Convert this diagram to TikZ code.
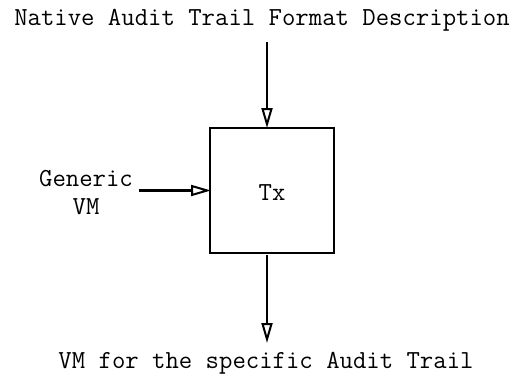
\documentclass[tikz,border=0pt]{standalone}
\usetikzlibrary{arrows.meta}
\begin{document}
\begin{tikzpicture}[x=1pt,y=-1pt,
  lbl/.style={font=\fontsize{26}{28}\selectfont\ttfamily, inner sep=0pt, align=center},
  flow/.style={line width=2.2pt, -{Triangle[open, length=20pt, width=11pt, line width=2pt]}}]
\useasboundingbox (0,0) rectangle (525,375);
\node[draw, line width=2.4pt, minimum width=124pt, minimum height=125pt, inner sep=0pt] (tx) at (272,190.5) {};
\node[lbl] (txl) at (272,193) {Tx};
\node[lbl] (top) at (262,20) {Native Audit Trail Format Description};
\node[lbl] (gen) at (86,193) {Generic\\VM};
\node[lbl] (bot) at (266,363) {VM for the specific Audit Trail};
\coordinate (t1) at (267,42);
\coordinate (t2) at (267,128);
\coordinate (g1) at (139,190.5);
\coordinate (g2) at (211,190.5);
\coordinate (b1) at (267,255);
\coordinate (b2) at (267,343);
\draw[flow] (t1) -- (t2);
\draw[flow] (g1) -- (g2);
\draw[flow] (b1) -- (b2);
\end{tikzpicture}
\end{document}
